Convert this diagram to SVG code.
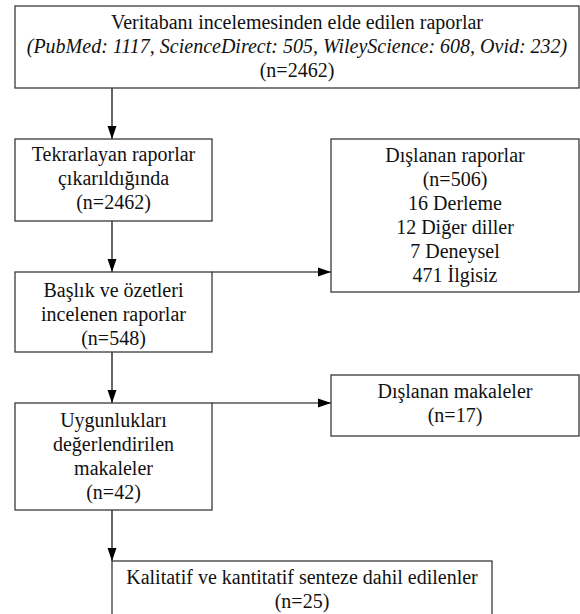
<svg xmlns="http://www.w3.org/2000/svg" width="580" height="614" viewBox="0 0 580 614">
<style>
.box{fill:#fff;stroke:#3a3a3a;stroke-width:1.3}
.t{font-family:'Liberation Serif','DejaVu Serif',serif;font-size:20px;fill:#111;text-anchor:middle}
.i{font-style:italic}
.c{stroke:#000;stroke-width:1.2;fill:none;marker-end:url(#ah)}
</style>
<defs>
<marker id="ah" markerUnits="userSpaceOnUse" markerWidth="13" markerHeight="10" refX="13" refY="5" orient="auto">
<path d="M0,0.5 L13,5 L0,9.5 z" fill="#000"/>
</marker>
</defs>
<rect width="580" height="614" fill="#fff"/>
<g id="connectors">
<line class="c" x1="112" y1="88" x2="112" y2="139"/>
<line class="c" x1="112" y1="221" x2="112" y2="272"/>
<line class="c" x1="212" y1="272" x2="331" y2="272"/>
<line class="c" x1="112" y1="352" x2="112" y2="403"/>
<line class="c" x1="212" y1="403" x2="331" y2="403"/>
<line class="c" x1="112" y1="510" x2="112" y2="561"/>
</g>
<g id="n1">
<rect class="box" x="15" y="6" width="564" height="82"/>
<text class="t" x="297" y="29">Veritabanı incelemesinden elde edilen raporlar</text>
<text class="t i" x="297" y="53">(PubMed: 1117, ScienceDirect: 505, WileyScience: 608, Ovid: 232)</text>
<text class="t" x="297" y="77">(n=2462)</text>
</g>
<g id="n2">
<rect class="box" x="15" y="139" width="197" height="82"/>
<text class="t" x="113.5" y="161">Tekrarlayan raporlar</text>
<text class="t" x="113.5" y="185">çıkarıldığında</text>
<text class="t" x="113.5" y="209">(n=2462)</text>
</g>
<g id="n3">
<rect class="box" x="331" y="139" width="248" height="153"/>
<text class="t" x="455" y="162">Dışlanan raporlar</text>
<text class="t" x="455" y="186">(n=506)</text>
<text class="t" x="455" y="210">16 Derleme</text>
<text class="t" x="455" y="234">12 Diğer diller</text>
<text class="t" x="455" y="258">7 Deneysel</text>
<text class="t" x="455" y="282">471 İlgisiz</text>
</g>
<g id="n4">
<rect class="box" x="15" y="272" width="197" height="80"/>
<text class="t" x="113.5" y="297">Başlık ve özetleri</text>
<text class="t" x="113.5" y="321">incelenen raporlar</text>
<text class="t" x="113.5" y="345">(n=548)</text>
</g>
<g id="n5">
<rect class="box" x="15" y="403" width="197" height="107"/>
<text class="t" x="113.5" y="427">Uygunlukları</text>
<text class="t" x="113.5" y="451">değerlendirilen</text>
<text class="t" x="113.5" y="475">makaleler</text>
<text class="t" x="113.5" y="499">(n=42)</text>
</g>
<g id="n6">
<rect class="box" x="331" y="375" width="248" height="61"/>
<text class="t" x="455" y="398">Dışlanan makaleler</text>
<text class="t" x="455" y="422">(n=17)</text>
</g>
<g id="n7">
<rect class="box" x="112" y="561" width="380" height="70"/>
<text class="t" x="302" y="584">Kalitatif ve kantitatif senteze dahil edilenler</text>
<text class="t" x="302" y="608">(n=25)</text>
</g>
</svg>
